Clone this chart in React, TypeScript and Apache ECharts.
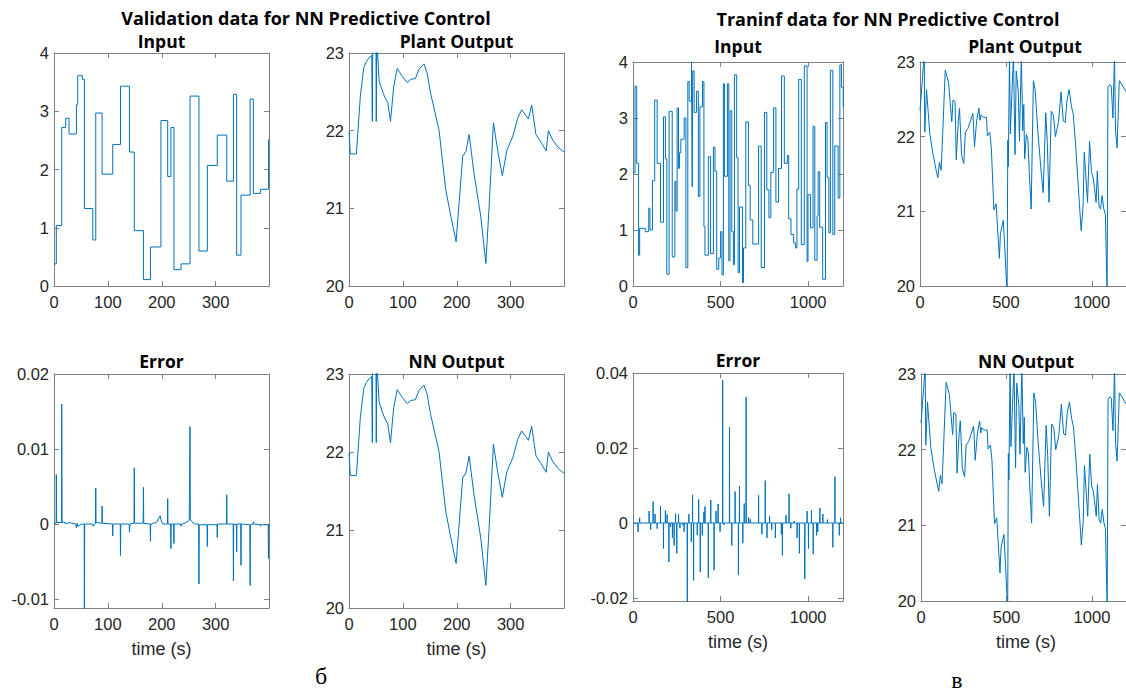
import React, { useEffect, useRef } from 'react';
import * as echarts from 'echarts';

const BLUE = '#0072BD';

// ---------- Validation data ----------
const valInputT = [0, 4.3, 14.3, 21.7, 27.9, 41.6, 44, 52.7, 56.4, 72, 77.5, 89.3, 109, 123.4, 140, 149, 166, 179, 198.4, 211, 217, 222.6, 235.7, 252.4, 269, 284.6, 303, 320.6, 333, 339, 347, 364, 370, 383, 398, 400];
const valInputV = [0.38, 1.04, 2.72, 2.88, 2.61, 3.11, 3.61, 3.55, 1.33, 0.79, 2.97, 1.92, 2.43, 3.43, 2.3, 0.95, 0.11, 0.67, 2.84, 1.88, 2.72, 0.28, 0.38, 3.26, 0.6, 2.07, 2.59, 1.8, 3.29, 0.53, 1.56, 3.21, 1.59, 1.66, 2.51, 2.51];

const valPlantOutput: number[][] = [
  [0, 21.99], [2.5, 21.7], [13.7, 21.7], [21, 22.44], [27.3, 22.81], [32.3, 22.89], [37.3, 22.94], [42.2, 22.97],
  [43.3, 22.12], [44, 23.2], [50, 23.2], [50.6, 22.12], [51.4, 23.2], [55.9, 22.64], [64.6, 22.46], [72, 22.36],
  [77, 22.12], [83, 22.57], [89.4, 22.8], [98.8, 22.7], [108, 22.62], [114, 22.66], [123, 22.67], [130, 22.79],
  [139, 22.86], [145, 22.74], [151.5, 22.48], [167, 22.01], [179.5, 21.24], [189, 20.9], [198.8, 20.57],
  [211, 21.67], [216.8, 21.73], [223, 21.95], [232, 21.45], [244.7, 20.89], [254, 20.29], [260, 21.02],
  [268, 22.1], [275.8, 21.75], [284.5, 21.42], [293, 21.75], [303.7, 21.92], [313, 22.16], [320.5, 22.27],
  [333, 22.15], [339, 22.33], [347, 21.95], [356.5, 21.85], [366, 21.74], [370, 22.0], [378, 21.88],
  [387.6, 21.79], [400, 21.72]
];
const valNNOutput: number[][] = valPlantOutput.map((p) => [p[0], p[1]]);

const valError: number[][] = [
  [0, 0.0001], [4, 0.0001], [4.3, 0.0066], [5, 0.0002], [14, 0.0002], [14.3, 0.016], [15, 0.0002], [19, 0.0003],
  [20, 0.0001], [27, 0.0001], [28, 0.0002], [40, 0], [41.6, -0.0005], [43, 0.0001], [44, -0.0003], [52, 0],
  [56, 0], [56.4, -0.0115], [57, 0], [72, 0], [72.5, -0.0003], [77, 0.0001], [77.5, 0.0048], [78, 0.0002],
  [89, 0.0001], [89.3, 0.0024], [90, 0.0001], [108.5, 0], [109, -0.0016], [109.5, 0], [123, 0], [123.4, -0.0042],
  [124, 0], [139.5, 0], [140, -0.0011], [141, 0], [148.5, 0.0001], [149, 0.0075], [149.5, 0.0001], [165.5, 0.0001],
  [166, 0.0049], [166.5, 0.0001], [178.5, 0], [179, -0.0023], [179.5, 0], [190, 0.0002], [197, 0.0011],
  [199, 0.0004], [202, 0], [210.5, 0], [211, 0.0034], [211.5, 0], [216.5, 0], [217, -0.0033], [217.5, 0],
  [222, 0], [222.6, -0.0026], [223, 0], [235, 0], [235.7, -0.0003], [237, 0], [245, 0.0002], [251, 0.0005],
  [252.4, 0.013], [253, 0.0006], [256, 0.0003], [262, 0], [268.5, 0], [269, -0.008], [269.5, -0.0001],
  [284, -0.0001], [284.6, -0.003], [285, -0.0001], [302.5, -0.0001], [303, -0.0018], [303.5, 0], [320, 0],
  [320.6, 0.0039], [321, 0], [332.5, 0], [333, -0.0076], [333.5, 0], [338.5, -0.0001], [339, -0.0037],
  [339.5, 0], [346.5, 0], [347, -0.0055], [347.5, 0], [363.5, -0.0001], [364, -0.0082], [364.5, -0.0001],
  [369.5, 0], [370, 0.0003], [371, 0], [382.5, -0.0001], [383, -0.0003], [384, -0.0001], [397.5, -0.0001],
  [398, -0.0046], [398.5, -0.0001], [400, -0.0001]
];

// ---------- Training data ----------
const trainInputT = [0, 11.5, 21, 32, 38, 70, 90, 97, 111, 124, 138, 157, 174, 185, 193, 206, 224, 239, 245, 252, 260, 265, 273, 292, 302, 313, 321, 334, 338, 341, 349, 363, 373, 382, 397, 405, 411, 430, 443, 459, 468, 478, 490, 500, 508, 516, 522, 539, 547, 554, 564, 573, 579, 592, 600, 608, 625, 631, 644, 659, 669, 684, 717, 732, 751, 764, 776, 787, 803, 816, 831, 848, 864, 881, 889, 902, 917, 927, 936, 946, 961, 978, 994, 999, 1013, 1028, 1038, 1051, 1057, 1066, 1083, 1099, 1108, 1118, 1127, 1141, 1152, 1171, 1181, 1190, 1200];
const trainInputV = [2.02, 3.57, 2.19, 0.55, 1.03, 0.97, 1.39, 1.0, 1.88, 3.32, 2.19, 1.14, 3.02, 2.27, 0.21, 3.12, 0.52, 1.87, 1.34, 3.18, 2.1, 2.38, 2.62, 3.0, 0.33, 3.65, 3.3, 4.0, 1.77, 3.84, 3.1, 3.48, 1.6, 3.2, 3.65, 1.06, 0.55, 2.31, 0.58, 2.48, 2.05, 0.3, 0.5, 0.97, 0.2, 3.61, 1.96, 3.61, 0.45, 3.13, 0.97, 0.38, 3.77, 2.29, 0.24, 1.41, 0.06, 0.68, 2.93, 1.8, 1.18, 0.75, 2.5, 0.33, 3.1, 1.72, 1.22, 2.03, 3.18, 1.5, 2.1, 3.75, 2.19, 2.33, 1.2, 0.92, 0.77, 0.68, 1.73, 3.69, 0.74, 3.93, 0.44, 1.63, 1.04, 2.85, 0.46, 1.25, 2.04, 1.05, 0.12, 2.92, 1.94, 0.95, 3.85, 0.92, 2.5, 1.57, 3.95, 3.55, 3.2];

const trainPlantOutput: number[][] = [
  [0, 22.35], [15, 22.8], [24.5, 23.1], [28, 22.06], [38, 22.63], [47, 22.35], [57, 22.04], [75, 21.77],
  [94, 21.55], [104, 21.45], [113, 21.66], [123, 21.55], [132, 22.04], [147, 22.89], [166, 22.73], [181, 22.31],
  [185, 22.2], [192, 22.49], [204, 22.47], [211, 21.69], [223, 22.22], [230, 22.38], [242, 21.75], [255, 21.64],
  [264, 22.06], [279, 22.11], [292, 22.2], [308, 22.31], [317, 21.86], [330, 22.22], [343, 22.38], [349, 22.22],
  [355, 22.29], [368, 22.26], [387, 22.26], [392, 22.01], [406, 22.06], [415, 21.86], [430, 21.02], [443, 21.1],
  [462, 20.37], [468, 20.7], [485, 20.88], [500, 20.21], [507, 19.9], [511, 21.95], [514, 21.6], [521, 23.1],
  [526, 22.04], [535, 22.58], [544, 23.1], [553, 21.76], [560, 22.88], [572, 22.6], [579, 21.94], [590, 23.1],
  [598, 22.08], [604, 22.43], [609, 21.7], [619, 22.03], [628, 21.96], [636, 21.52], [647, 21.03], [660, 22.75],
  [670, 22.63], [685, 22.1], [704, 21.56], [717, 21.25], [732, 22.32], [741, 21.92], [751, 21.12], [764, 22.34],
  [777, 22.28], [788, 22.0], [806, 22.19], [821, 22.6], [834, 22.21], [845, 22.19], [855, 22.48], [868, 22.63],
  [881, 22.41], [892, 22.3], [906, 21.88], [921, 21.34], [938, 20.74], [949, 21.07], [956, 21.79], [968, 21.38],
  [975, 21.12], [987, 21.94], [998, 21.52], [1006, 21.47], [1015, 21.32], [1025, 21.12], [1032, 21.54],
  [1042, 21.07], [1051, 21.03], [1060, 21.21], [1070, 21.03], [1079, 20.96], [1089, 19.9], [1094, 22.66],
  [1104, 22.7], [1113, 22.68], [1123, 22.25], [1132, 23.1], [1138, 22.08], [1147, 21.85], [1160, 22.75],
  [1175, 22.7], [1200, 22.6]
];
const trainNNOutput: number[][] = trainPlantOutput.map((p) => [p[0], p[1]]);

const trainErrT = [29, 38, 92, 101, 115, 126, 138, 157, 174, 185, 195, 205, 214, 225, 235, 243, 250, 260, 268, 285, 292, 310, 319, 333, 340, 346, 367, 375, 384, 396, 405, 411, 430, 444, 463, 474, 486, 497, 512, 520, 551, 564, 583, 602, 608, 627, 635, 646, 660, 670, 717, 736, 755, 765, 780, 792, 813, 847, 853, 874, 891, 901, 920, 937, 950, 981, 994, 1002, 1019, 1029, 1048, 1055, 1067, 1084, 1110, 1141, 1153, 1178, 1185];
const trainErrV = [-0.0024, 0.0014, 0.0032, -0.0018, 0.0057, 0.0024, -0.0015, 0.0045, -0.0068, 0.0033, 0.0023, -0.0104, -0.001, -0.004, -0.006, 0.0025, -0.0081, 0.0023, -0.0014, -0.0006, -0.0023, -0.0215, 0.0024, -0.005, 0.0075, -0.0153, -0.0032, 0.0063, -0.0131, -0.0033, 0.003, 0.0044, -0.0146, 0.0061, -0.0126, 0.0032, 0.0051, -0.0023, 0.0381, -0.0005, 0.0255, -0.006, 0.0084, -0.0138, 0.0099, -0.0054, 0.0052, 0.0336, 0.0015, 0.001, 0.0074, -0.003, 0.0113, -0.004, 0.0018, -0.0018, -0.004, -0.003, -0.0086, 0.0021, 0.0078, -0.0014, 0.0005, -0.004, -0.0081, -0.0149, 0.0032, -0.0068, 0.0033, -0.0083, -0.0033, -0.0024, 0.004, 0.0024, 0.0009, -0.0065, 0.0123, -0.0033, 0.0014];

// ---------- Ticks ----------
const valXTicks = [0, 100, 200, 300];
const trainXTicks = [0, 500, 1000];
const inputYTicks = [0, 1, 2, 3, 4];
const outputYTicks = [20, 21, 22, 23];
const valErrYTicks = [-0.01, 0, 0.01, 0.02];
const trainErrYTicks = [-0.02, 0, 0.02, 0.04];

const mainTitles = ['Validation data for NN Predictive Control', 'Traninf data for NN Predictive Control'];
const panelTitles = ['Input', 'Plant Output', 'Input', 'Plant Output', 'Error', 'NN Output', 'Error', 'NN Output'];
const xAxisName = 'time (s)';
const figureLetters = ['б', 'в'];

function toPairs(T: number[], V: number[]) {
  return T.map((t, i) => [t, V[i]]);
}
function spikes(T: number[], V: number[], end: number) {
  const out: number[][] = [[0, 0]];
  T.forEach((t, i) => {
    out.push([t - 0.8, 0], [t, V[i]], [t + 0.8, 0]);
  });
  out.push([end, 0]);
  return out;
}

type Panel = {
  box: number[]; xMax: number; yMin: number; yMax: number; xTicks: number[]; yTicks: number[];
  data: number[][]; step: boolean; titleY: number; xLabelY?: number;
};

const panels: Panel[] = [
  { box: [54, 53, 215, 233], xMax: 399, yMin: 0, yMax: 4, xTicks: valXTicks, yTicks: inputYTicks, data: toPairs(valInputT, valInputV), step: true, titleY: 41 },
  { box: [349, 53, 215, 233], xMax: 399, yMin: 20, yMax: 23, xTicks: valXTicks, yTicks: outputYTicks, data: valPlantOutput, step: false, titleY: 41 },
  { box: [633, 62, 210, 224], xMax: 1199, yMin: 0, yMax: 4, xTicks: trainXTicks, yTicks: inputYTicks, data: toPairs(trainInputT, trainInputV), step: true, titleY: 46 },
  { box: [920, 62, 210, 224], xMax: 1199, yMin: 20, yMax: 23, xTicks: trainXTicks, yTicks: outputYTicks, data: trainPlantOutput, step: false, titleY: 46 },
  { box: [54, 374, 215, 234], xMax: 399, yMin: -0.0112, yMax: 0.02, xTicks: valXTicks, yTicks: valErrYTicks, data: valError, step: false, titleY: 361, xLabelY: 649 },
  { box: [349, 374, 215, 234], xMax: 399, yMin: 20, yMax: 23, xTicks: valXTicks, yTicks: outputYTicks, data: valNNOutput, step: false, titleY: 361, xLabelY: 649 },
  { box: [633, 373, 210, 228], xMax: 1199, yMin: -0.0208, yMax: 0.04, xTicks: trainXTicks, yTicks: trainErrYTicks, data: spikes(trainErrT, trainErrV, 1200), step: false, titleY: 360, xLabelY: 642 },
  { box: [921, 374, 210, 227], xMax: 1199, yMin: 20, yMax: 23, xTicks: trainXTicks, yTicks: outputYTicks, data: trainNNOutput, step: false, titleY: 361, xLabelY: 642 },
];

const AXIS_COLOR = '#808080';
const LABEL_COLOR = '#262626';
const TICK_FONT = 'Liberation Sans';
const TITLE_FONT = 'Open Sans';

function fmt(v: number) {
  return String(parseFloat(Number(v).toFixed(4)));
}

function buildOption() {
  const grid: any[] = [];
  const xAxis: any[] = [];
  const yAxis: any[] = [];
  const series: any[] = [];
  const graphic: any[] = [];

  panels.forEach((p, i) => {
    const [left, top, width, height] = p.box;
    grid.push({ left, top, width, height, show: false, containLabel: false });
    const line = { show: true, onZero: false, lineStyle: { color: AXIS_COLOR, width: 1 } };
    const tick = (vals: number[]) => ({ show: true, inside: true, length: 5, customValues: vals, lineStyle: { color: AXIS_COLOR, width: 1 } });
    xAxis.push({
      type: 'value', gridIndex: i, min: 0, max: p.xMax, position: 'bottom',
      axisLine: line, axisTick: tick(p.xTicks), splitLine: { show: false },
      axisLabel: { show: true, customValues: p.xTicks, color: LABEL_COLOR, fontSize: 16.5, fontFamily: TICK_FONT, margin: 7, formatter: fmt },
    });
    xAxis.push({
      type: 'value', gridIndex: i, min: 0, max: p.xMax, position: 'top',
      axisLine: line, axisTick: tick(p.xTicks), splitLine: { show: false }, axisLabel: { show: false },
    });
    yAxis.push({
      type: 'value', gridIndex: i, min: p.yMin, max: p.yMax, position: 'left',
      axisLine: line, axisTick: tick(p.yTicks), splitLine: { show: false },
      axisLabel: { show: true, customValues: p.yTicks, color: LABEL_COLOR, fontSize: 16.5, fontFamily: TICK_FONT, margin: 5, formatter: fmt },
    });
    yAxis.push({
      type: 'value', gridIndex: i, min: p.yMin, max: p.yMax, position: 'right',
      axisLine: line, axisTick: tick(p.yTicks), splitLine: { show: false }, axisLabel: { show: false },
    });
    series.push({
      type: 'line', xAxisIndex: 2 * i, yAxisIndex: 2 * i, data: p.data, step: p.step ? 'end' : false,
      showSymbol: false, symbol: 'none', clip: true, lineStyle: { color: BLUE, width: 1 }, silent: true,
    });
    const cx = left + width / 2;
    graphic.push({
      type: 'text', x: cx, y: p.titleY,
      style: { text: panelTitles[i], fill: '#000', font: `bold 17.5px "${TITLE_FONT}"`, textAlign: 'center', textVerticalAlign: 'middle' },
    });
    if (p.xLabelY) {
      graphic.push({
        type: 'text', x: cx, y: p.xLabelY,
        style: { text: xAxisName, fill: LABEL_COLOR, font: `18px "${TICK_FONT}"`, textAlign: 'center', textVerticalAlign: 'middle' },
      });
    }
  });

  graphic.push(
    { type: 'text', x: 306, y: 18, style: { text: mainTitles[0], fill: '#000', font: `bold 18px "${TITLE_FONT}"`, textAlign: 'center', textVerticalAlign: 'middle' } },
    { type: 'text', x: 888, y: 19, style: { text: mainTitles[1], fill: '#000', font: `bold 18px "${TITLE_FONT}"`, textAlign: 'center', textVerticalAlign: 'middle' } },
    { type: 'text', x: 321, y: 676, style: { text: figureLetters[0], fill: '#000', font: '24px "Liberation Serif"', textAlign: 'center', textVerticalAlign: 'middle' } },
    { type: 'text', x: 957, y: 680, style: { text: figureLetters[1], fill: '#000', font: '24px "Liberation Serif"', textAlign: 'center', textVerticalAlign: 'middle' } },
  );

  return { animation: false, backgroundColor: '#fff', grid, xAxis, yAxis, series, graphic };
}

export default function App() {
  const ref = useRef<HTMLDivElement>(null);
  useEffect(() => {
    const chart = echarts.init(ref.current!, null, { renderer: 'svg' });
    chart.setOption(buildOption() as any);
    return () => chart.dispose();
  }, []);
  return <div ref={ref} style={{ position: 'absolute', left: 0, top: 0, width: 1126, height: 692, background: '#fff' }} />;
}
